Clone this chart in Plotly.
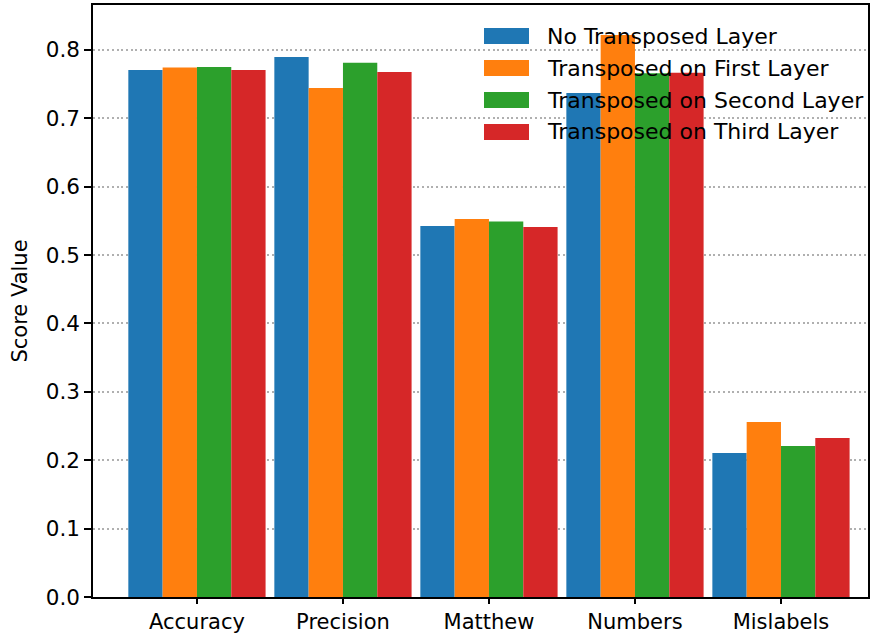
import plotly.graph_objects as go

# Metric categories along the x axis
categories = ["Accuracy", "Precision", "Matthew", "Numbers", "Mislabels"]

# Scores for each model variant
no_transposed = [0.7705, 0.7895, 0.5424, 0.737, 0.2105]
transposed_first = [0.774, 0.744, 0.5526, 0.8216, 0.2558]
transposed_second = [0.775, 0.781, 0.549, 0.7656, 0.2208]
transposed_third = [0.7705, 0.7675, 0.541, 0.7665, 0.2325]

series_names = [
    "No Transposed Layer",
    "Transposed on First Layer",
    "Transposed on Second Layer",
    "Transposed on Third Layer",
]
series_values = [no_transposed, transposed_first, transposed_second, transposed_third]
colors = ["#1f77b4", "#ff7f0e", "#2ca02c", "#d62728"]

y_ticks = [0.0, 0.1, 0.2, 0.3, 0.4, 0.5, 0.6, 0.7, 0.8]

FONT = "DejaVu Sans"
W, H = 876, 635
M_L, M_R, M_T, M_B = 93, 8, 5, 38

fig = go.Figure()
for name, vals, col in zip(series_names, series_values, colors):
    fig.add_trace(go.Bar(
        x=categories, y=vals, name=name,
        marker=dict(color=col, line=dict(width=0)),
        showlegend=False,
    ))

# Legend drawn as patches + labels in the upper right corner
plot_w = W - M_L - M_R
plot_h = H - M_T - M_B
def px_x(p):
    return (p - M_L) / plot_w
def px_y(p):
    return (H - M_B - p) / plot_h

shapes = []
annotations = []
for i, (name, col) in enumerate(zip(series_names, colors)):
    cy = 36 + 32 * i
    shapes.append(dict(
        type="rect", xref="paper", yref="paper",
        x0=px_x(484), x1=px_x(529), y0=px_y(cy + 8), y1=px_y(cy - 8),
        fillcolor=col, line=dict(width=0), layer="above",
    ))
    annotations.append(dict(
        xref="paper", yref="paper", x=px_x(545), y=px_y(cy),
        xanchor="left", yanchor="middle", text=name, showarrow=False,
        font=dict(family=FONT, size=22, color="black"),
    ))

fig.update_layout(
    width=W, height=H,
    margin=dict(l=M_L, r=M_R, t=M_T, b=M_B, pad=0, autoexpand=False),
    paper_bgcolor="white", plot_bgcolor="white",
    barmode="group", bargap=0.06, bargroupgap=0,
    font=dict(family=FONT, size=21, color="black"),
    shapes=shapes, annotations=annotations,
    showlegend=False,
)
fig.update_xaxes(
    type="category", range=[-0.712, 4.596], automargin=False,
    showline=True, mirror=True, linecolor="black", linewidth=1.5,
    ticks="outside", ticklen=5, tickwidth=1.5, tickcolor="black",
    showgrid=False, zeroline=False,
    tickfont=dict(family=FONT, size=21, color="black"),
)
fig.update_yaxes(
    range=[0, 0.8655], automargin=False,
    tickvals=y_ticks, ticktext=[f"{v:.1f}" for v in y_ticks],
    showline=True, mirror=True, linecolor="black", linewidth=1.5,
    ticks="outside", ticklen=7, tickwidth=1.5, tickcolor="black",
    showgrid=True, gridcolor="#b0b0b0", gridwidth=1.5, griddash="2px,2.7px",
    zeroline=False,
    tickfont=dict(family=FONT, size=21.5, color="black"),
    title=dict(text="Score Value", font=dict(family=FONT, size=21, color="black"), standoff=12),
)

fig.write_html("out.html")
